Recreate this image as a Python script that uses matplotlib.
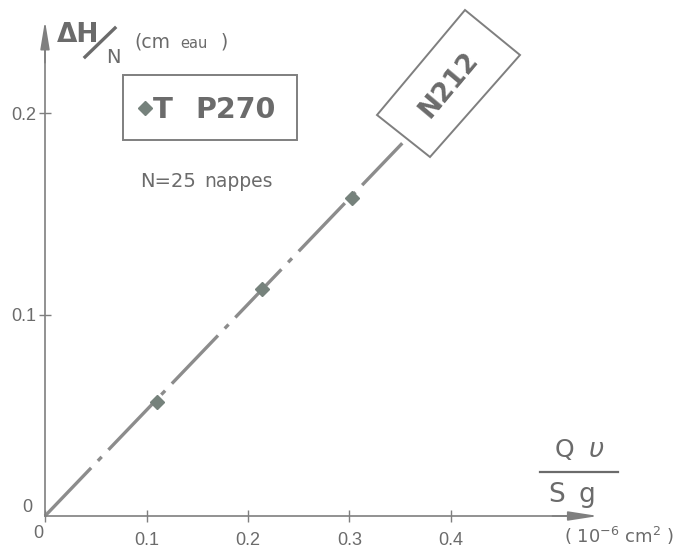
import matplotlib
matplotlib.use("Agg")
import matplotlib.pyplot as plt
from matplotlib.patches import Rectangle, Polygon
from matplotlib.lines import Line2D

# --- donnees ---
qv_sg = [0.110, 0.214, 0.302]          # Qv/Sg (10^-6 cm2)
dh_n = [0.0566, 0.1127, 0.158]         # dH/N (cm eau)
droite_x = [0.0, 0.352]                # droite N212
droite_y = [0.0, 0.185]
xticks = [0, 0.1, 0.2, 0.3, 0.4]
xtick_labels = ['', '0.1', '0.2', '0.3', '0.4']
yticks = [0.1, 0.2]
ytick_labels = ['0.1', '0.2']

W, H = 677, 552
GRIS = '#7f7f7f'
TXT = '#6b6b6b'
plt.rcParams['font.family'] = ['DejaVu Sans']
plt.rcParams['lines.scale_dashes'] = False

fig = plt.figure(figsize=(W / 100, H / 100), dpi=100)
fig.patch.set_facecolor('white')
ax = fig.add_axes([0, 0, 1, 1])
ax.set_facecolor('none')

# echelle: 0 -> (45, 516) px, 0.1 en x = 101.5 px, 0.1 en y = 201.5 px
ax.set_xlim(-45 / 1015, (W - 45) / 1015)
ax.set_ylim((516 - H) / 2015, 516 / 2015)


def P(x, y):
    # pixel image -> fraction figure
    return x / W, 1 - y / H


def T(x, y, s, size, **kw):
    kw.setdefault('ha', 'left')
    kw.setdefault('va', 'baseline')
    return fig.text(*P(x, y), s, fontsize=size, color=TXT, **kw)


for s in ['top', 'right']:
    ax.spines[s].set_visible(False)
ax.spines['left'].set_position(('data', 0))
ax.spines['bottom'].set_position(('data', 0))
ax.spines['left'].set_bounds(0, 0.232)
ax.spines['bottom'].set_bounds(0, 0.52)
for s in ['left', 'bottom']:
    ax.spines[s].set_color(GRIS)
    ax.spines[s].set_linewidth(1.2)

# fleches des axes
ax.annotate('', xy=(0, 0.2457), xytext=(0, 0.225),
            arrowprops=dict(arrowstyle='-|>,head_length=1.7,head_width=0.28',
                            color=GRIS, lw=1.2, shrinkA=0, shrinkB=0))
ax.annotate('', xy=(0.545, 0), xytext=(0.50, 0),
            arrowprops=dict(arrowstyle='-|>,head_length=1.8,head_width=0.28',
                            color=GRIS, lw=1.2, shrinkA=0, shrinkB=0))

ax.set_xticks(xticks)
ax.set_xticklabels(xtick_labels, fontfamily='Liberation Sans')
ax.set_yticks(yticks)
ax.set_yticklabels(ytick_labels, fontfamily='Liberation Sans')
ax.tick_params(axis='x', direction='inout', length=9, width=1, color=GRIS,
               pad=7, labelsize=13, labelcolor=TXT)
ax.tick_params(axis='y', direction='inout', length=9, width=1, color=GRIS,
               pad=2, labelsize=13, labelcolor=TXT)

# droite et points
ax.plot(droite_x, droite_y, color='#8c8c8c', lw=2.4,
        linestyle=(0, (48, 7, 4, 7)), solid_capstyle='butt',
        dash_capstyle='butt', zorder=2)
ax.plot(qv_sg, dh_n, linestyle='none', marker='D', markersize=7,
        color='#76827c', markeredgecolor='#76827c', zorder=3)

# etiquette N212 inclinee
coins = [P(377, 115), P(465, 10), P(520, 55), P(430, 157)]
fig.add_artist(Polygon(coins, closed=True, transform=fig.transFigure,
                       fc='white', ec=GRIS, lw=1.4, zorder=4))
T(449, 85, 'N212', 19, rotation=50, rotation_mode='anchor',
  ha='center', va='center', zorder=5, fontweight='bold')

# titre de l'axe y
T(57, 42, 'ΔH', 19, fontweight='bold')
fig.add_artist(Line2D([85 / W, 115 / W], [1 - 57 / H, 1 - 28 / H],
                      color=TXT, lw=2.4))
T(106, 63, 'N', 14)
T(134, 48, '(cm', 13.5)
T(180, 48, 'eau', 10.5)
T(221, 48, ')', 13.5)
T(27, 512, '0', 13, ha='center', fontfamily='Liberation Sans')
T(38, 538, '0', 13, ha='center', fontfamily='Liberation Sans')

# encadre legende
fig.add_artist(Rectangle(P(123, 140), 174 / W, 65 / H, transform=fig.transFigure,
                         fill=False, ec=GRIS, lw=1.4))
fig.add_artist(Line2D([P(145, 108)[0]], [P(145, 108)[1]], marker='D',
                      markersize=7, color='#76827c', linestyle='none'))
T(163, 118, 'T', 21, ha='center', fontweight='bold')
T(195, 118, 'P270', 20.5, fontweight='bold')
T(140, 187, 'N=25', 14)
T(204, 187, 'nappes', 13.5)

# titre de l'axe x
T(564, 457, 'Q', 18, ha='center')
T(596, 457, r'$\upsilon$', 19, ha='center')
fig.add_artist(Line2D([540 / W, 618 / W], [1 - 472 / H, 1 - 472 / H],
                      color=TXT, lw=1.6))
T(557, 502, 'S', 19, ha='center')
T(587, 502, 'g', 19, ha='center')
T(619, 543, '( 10$^{-6}$ cm$^{2}$ )', 13, ha='center')

fig.savefig('out.png', dpi=100, facecolor='white')
